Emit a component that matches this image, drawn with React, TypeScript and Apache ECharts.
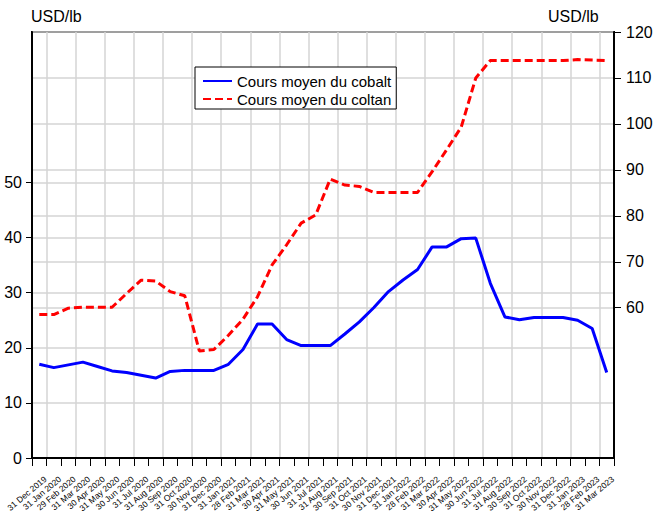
import React, { useEffect, useRef } from "react";
import * as echarts from "echarts";

const categories = [
  "31 Dec 2019", "31 Jan 2020", "29 Feb 2020", "31 Mar 2020", "30 Apr 2020", "31 May 2020",
  "30 Jun 2020", "31 Jul 2020", "31 Aug 2020", "30 Sep 2020", "31 Oct 2020", "30 Nov 2020",
  "31 Dec 2020", "31 Jan 2021", "28 Feb 2021", "31 Mar 2021", "30 Apr 2021", "31 May 2021",
  "30 Jun 2021", "31 Jul 2021", "31 Aug 2021", "30 Sep 2021", "31 Oct 2021", "30 Nov 2021",
  "31 Dec 2021", "31 Jan 2022", "28 Feb 2022", "31 Mar 2022", "30 Apr 2022", "31 May 2022",
  "30 Jun 2022", "31 Jul 2022", "31 Aug 2022", "30 Sep 2022", "31 Oct 2022", "30 Nov 2022",
  "31 Dec 2022", "31 Jan 2023", "28 Feb 2023", "31 Mar 2023",
];

const cobalt = [
  17.0, 16.4, 16.9, 17.4, 16.6, 15.8, 15.5, 15.0, 14.5, 15.7, 15.9, 15.9, 15.9,
  17.0, 19.7, 24.3, 24.3, 21.5, 20.4, 20.4, 20.4, 22.5, 24.7, 27.3, 30.2, 32.3,
  34.2, 38.3, 38.3, 39.8, 39.9, 31.7, 25.6, 25.1, 25.5, 25.5, 25.5, 25.0, 23.5, 15.5,
];

const coltan = [
  58.5, 58.5, 59.9, 60.1, 60.1, 60.1, 63.1, 66.0, 65.8, 63.5, 62.6, 50.6, 50.9,
  54.0, 57.5, 62.4, 69.3, 73.7, 78.4, 80.2, 88.0, 86.7, 86.4, 85.1, 85.1, 85.1,
  85.1, 89.6, 94.4, 99.3, 110.0, 113.8, 113.8, 113.8, 113.8, 113.8, 113.8, 114.0, 113.9, 113.8,
];

const leftTicks = [0, 10, 20, 30, 40, 50];
const rightTicks = [60, 70, 80, 90, 100, 110, 120];
const seriesNames = ["Cours moyen du cobalt", "Cours moyen du coltan"];
const unitLabel = "USD/lb";

const FONT = '"Liberation Sans", Arial, sans-serif';

export default function App() {
  const ref = useRef<HTMLDivElement>(null);
  useEffect(() => {
    document.body.style.margin = "0";
    if (!ref.current) return;
    const chart = echarts.init(ref.current, undefined, { renderer: "svg" });
    const gridColor = "#d4d4d4";
    chart.setOption({
      animation: false,
      backgroundColor: "#ffffff",
      textStyle: { fontFamily: FONT },
      grid: {
        left: 32,
        right: 52,
        top: 32,
        bottom: 57,
        containLabel: false,
        outerBoundsMode: "none",
        show: true,
        borderColor: "#000",
        borderWidth: 2,
        backgroundColor: "transparent",
      },
      graphic: [
        {
          type: "text",
          left: 31,
          top: 8,
          style: { text: unitLabel, font: `16px ${FONT}`, fill: "#000" },
        },
        {
          type: "text",
          left: 548,
          top: 8,
          style: { text: unitLabel, font: `16px ${FONT}`, fill: "#000" },
        },
      ],
      legend: {
        data: seriesNames,
        orient: "vertical",
        left: 195,
        top: 67,
        borderColor: "#000",
        borderWidth: 1,
        borderRadius: 0,
        backgroundColor: "#fff",
        padding: [6, 5, 2, 7],
        itemWidth: 29,
        itemHeight: 14,
        itemGap: 2,
        itemStyle: { opacity: 0 },
        textStyle: { fontSize: 15, color: "#000", fontFamily: FONT, lineHeight: 16 },
      },
      xAxis: {
        type: "category",
        data: categories,
        boundaryGap: true,
        axisLine: { show: true, lineStyle: { color: "#000", width: 2 } },
        axisTick: { show: true, length: 8, interval: 0, lineStyle: { color: "#000", width: 1 } },
        axisLabel: {
          interval: 0,
          rotate: 40,
          fontSize: 8.5,
          color: "#000",
          margin: 25,
          padding: [0, -8, 0, 0],
          fontFamily: FONT,
        },
        splitLine: {
          show: true,
          interval: (i: number) => i % 2 === 1,
          lineStyle: { color: gridColor, width: 1.5 },
        },
      },
      yAxis: [
        {
          type: "value",
          position: "left",
          min: 0,
          max: 77.3,
          axisLine: { show: true, lineStyle: { color: "#000", width: 2 } },
          axisTick: { show: true, length: 6, customValues: leftTicks, lineStyle: { color: "#000", width: 1 } },
          axisLabel: { customValues: leftTicks, fontSize: 16, color: "#000", margin: 10, fontFamily: FONT },
          splitLine: { show: true, lineStyle: { color: gridColor, width: 1.5 } },
        },
        {
          type: "value",
          position: "right",
          min: 27.3,
          max: 120,
          axisLine: { show: true, lineStyle: { color: "#000", width: 2 } },
          axisTick: { show: true, length: 7, customValues: rightTicks, lineStyle: { color: "#000", width: 1 } },
          axisLabel: { customValues: rightTicks, fontSize: 16, color: "#000", margin: 12, fontFamily: FONT },
          splitLine: { show: true, lineStyle: { color: gridColor, width: 1.5 } },
        },
      ],
      series: [
        {
          name: seriesNames[0],
          type: "line",
          yAxisIndex: 0,
          data: cobalt,
          symbol: "none",
          lineStyle: { color: "#0000ff", width: 3 },
          itemStyle: { color: "#0000ff" },
          z: 3,
        },
        {
          name: seriesNames[1],
          type: "line",
          yAxisIndex: 1,
          data: coltan,
          symbol: "none",
          lineStyle: { color: "#ff0000", width: 3, type: [8, 4] },
          itemStyle: { color: "#ff0000" },
          z: 3,
        },
      ],
    });
    return () => chart.dispose();
  }, []);
  return <div ref={ref} style={{ width: 666, height: 515 }} />;
}
